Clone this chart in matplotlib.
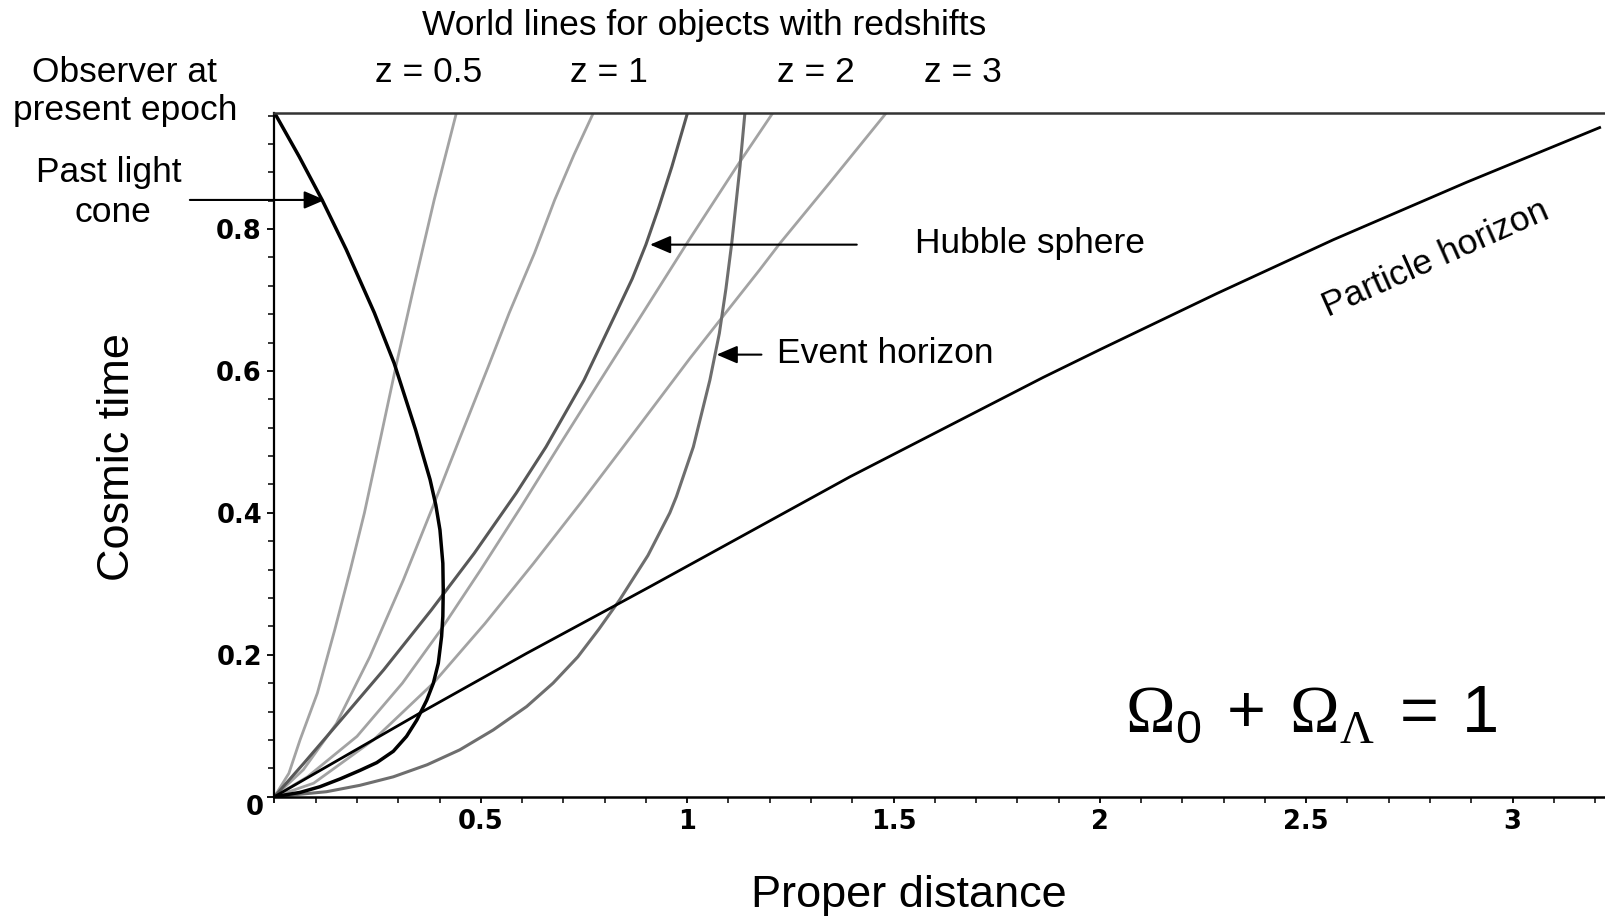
import matplotlib
matplotlib.use('Agg')
import matplotlib.pyplot as plt

plt.rcParams['font.family'] = ['Liberation Sans', 'DejaVu Sans']
plt.rcParams['mathtext.fontset'] = 'custom'
plt.rcParams['mathtext.rm'] = 'Liberation Sans'
plt.rcParams['mathtext.sf'] = 'Liberation Serif'

# ---- curves: (proper distance, cosmic time) ----
light_cone_d = [0.0, 0.060, 0.1155, 0.174, 0.242, 0.290, 0.342, 0.361, 0.377, 0.391, 0.401,
                0.408, 0.409, 0.408, 0.405, 0.397, 0.385, 0.369, 0.345, 0.320, 0.288,
                0.248, 0.207, 0.159, 0.110, 0.062, 0.0]
light_cone_t = [0.964, 0.902, 0.841, 0.771, 0.682, 0.611, 0.517, 0.479, 0.447, 0.411, 0.376,
                0.329, 0.291, 0.254, 0.226, 0.188, 0.160, 0.136, 0.108, 0.085, 0.064,
                0.048, 0.037, 0.025, 0.014, 0.006, 0.0]

z05_d = [0.0, 0.035, 0.062, 0.104, 0.146, 0.184, 0.218, 0.257, 0.296, 0.338, 0.387, 0.441]
z05_t = [0.0, 0.033, 0.080, 0.146, 0.235, 0.320, 0.400, 0.505, 0.611, 0.719, 0.841, 0.964]

z1_d = [0.0, 0.070, 0.150, 0.231, 0.312, 0.384, 0.449, 0.518, 0.569, 0.630, 0.679, 0.726, 0.773]
z1_t = [0.0, 0.038, 0.103, 0.197, 0.305, 0.409, 0.505, 0.606, 0.682, 0.766, 0.841, 0.905, 0.964]

z2_d = [0.0, 0.080, 0.200, 0.310, 0.403, 0.500, 0.598, 0.688, 0.780, 0.893, 1.005, 1.120, 1.208]
z2_t = [0.0, 0.028, 0.085, 0.160, 0.235, 0.320, 0.409, 0.493, 0.578, 0.682, 0.785, 0.888, 0.964]

z3_d = [0.0, 0.095, 0.240, 0.385, 0.510, 0.628, 0.742, 0.845, 1.007, 1.080, 1.175, 1.225, 1.345, 1.483]
z3_t = [0.0, 0.019, 0.080, 0.160, 0.244, 0.329, 0.414, 0.493, 0.618, 0.672, 0.742, 0.780, 0.865, 0.964]

hubble_d = [0.0, 0.071, 0.161, 0.265, 0.380, 0.484, 0.586, 0.658, 0.750, 0.828, 0.867,
            0.900, 0.931, 0.963, 1.001]
hubble_t = [0.0, 0.047, 0.108, 0.179, 0.263, 0.343, 0.428, 0.493, 0.587, 0.682, 0.730,
            0.778, 0.830, 0.888, 0.964]

event_d = [0.0, 0.126, 0.207, 0.288, 0.370, 0.449, 0.530, 0.611, 0.675, 0.735, 0.786, 0.836,
           0.905, 0.958, 0.974, 1.015, 1.055, 1.078, 1.094, 1.108, 1.128, 1.140]
event_t = [0.0, 0.007, 0.016, 0.028, 0.045, 0.066, 0.094, 0.127, 0.160, 0.197, 0.236, 0.277,
           0.340, 0.400, 0.423, 0.493, 0.587, 0.653, 0.716, 0.780, 0.888, 0.964]

particle_d = [0.0, 0.353, 0.611, 0.837, 0.910, 1.176, 1.395, 1.863, 2.000, 2.283, 2.566, 2.889, 3.211]
particle_t = [0.0, 0.118, 0.202, 0.273, 0.296, 0.381, 0.451, 0.591, 0.630, 0.709, 0.785, 0.866, 0.943]

x_ticks = [0, 0.5, 1, 1.5, 2, 2.5, 3]
x_tick_labels = ['', '0.5', '1', '1.5', '2', '2.5', '3']
y_ticks = [0, 0.2, 0.4, 0.6, 0.8]
y_tick_labels = ['', '0.2', '0.4', '0.6', '0.8']
z_labels = ['z = 0.5', 'z = 1', 'z = 2', 'z = 3']
z_label_x = [0.2673, 0.3794, 0.5084, 0.6000]

light_gray = '#a3a3a3'
dark_gray = '#585858'
mid_gray = '#6e6e6e'

fig = plt.figure(figsize=(16.05, 9.19), dpi=100)
ax = fig.add_axes([0.1710, 0.1331, 0.8290, 0.7443])
ax.set_xlim(0, 3.224)
ax.set_ylim(0, 0.964)

for d, t in [(z05_d, z05_t), (z1_d, z1_t), (z2_d, z2_t), (z3_d, z3_t)]:
    ax.plot(d, t, color=light_gray, lw=2.0, solid_joinstyle='round')
ax.plot(event_d, event_t, color=mid_gray, lw=2.2, solid_joinstyle='round')
ax.plot(hubble_d, hubble_t, color=dark_gray, lw=2.2, solid_joinstyle='round')
ax.plot(particle_d, particle_t, color='black', lw=2.0, solid_joinstyle='round')
ax.plot(light_cone_d, light_cone_t, color='black', lw=2.5, solid_joinstyle='round')

# axes, ticks
ax.spines['right'].set_visible(False)
ax.spines['left'].set_linewidth(1.6)
ax.spines['bottom'].set_linewidth(1.8)
ax.spines['top'].set_linewidth(1.8)
ax.spines['top'].set_color('#333333')

tick_font = dict(family='DejaVu Sans', weight='bold', size=18.5)
ax.set_xticks(x_ticks)
ax.set_xticklabels(x_tick_labels, fontdict=tick_font)
ax.set_yticks(y_ticks)
ax.set_yticklabels(y_tick_labels, fontdict=tick_font)
ax.xaxis.set_minor_locator(matplotlib.ticker.MultipleLocator(0.1))
ax.yaxis.set_minor_locator(matplotlib.ticker.MultipleLocator(0.04))
ax.tick_params(axis='x', which='major', length=4, width=1.3, pad=5)
ax.tick_params(axis='x', which='minor', length=4, width=1.1)
ax.tick_params(axis='y', which='major', length=5, width=1.3, pad=4)
ax.tick_params(axis='y', which='minor', length=4, width=1.1)
ax.annotate('0', xy=(0, 0), xytext=(-20, -11), textcoords='offset pixels',
            ha='center', va='center', annotation_clip=False,
            fontfamily='DejaVu Sans', fontweight='bold', fontsize=18.5)

ax.set_xlabel('Proper distance', fontsize=32.5)
ax.xaxis.set_label_coords(0.477, -0.145)
ax.xaxis.label.set_va('center')
ax.set_ylabel('Cosmic time', fontsize=32.5)
ax.yaxis.set_label_coords(-0.1176, 0.4966)
ax.yaxis.label.set_va('center')

# labels above the plot
txt = dict(fontsize=25.5, color='black')
fig.text(0.4386, 1 - 35 / 919, 'World lines for objects with redshifts', ha='center', va='baseline', **txt)
for lab, xpos in zip(z_labels, z_label_x):
    fig.text(xpos, 1 - 81.7 / 919, lab, ha='center', va='baseline', **txt)
fig.text(125 / 1605, 1 - 81.7 / 919, 'Observer at', ha='center', va='baseline', **txt)
fig.text(125 / 1605, 1 - 120 / 919, 'present epoch', ha='center', va='baseline', **txt)
fig.text(108.5 / 1605, 1 - 181.7 / 919, 'Past light', ha='center', va='baseline', **txt)
fig.text(113 / 1605, 1 - 221.7 / 919, 'cone', ha='center', va='baseline', **txt)

# annotations with arrows
arrow = dict(arrowstyle='-|>,head_length=0.7,head_width=0.3', color='black', lw=1.5,
             shrinkA=0, shrinkB=0, mutation_scale=18)
ax.annotate('', xy=(0.122, 0.841), xytext=(-0.205, 0.841), arrowprops=arrow, annotation_clip=False)
ax.annotate('', xy=(0.910, 0.778), xytext=(1.411, 0.778), arrowprops=arrow)
ax.annotate('', xy=(1.0715, 0.623), xytext=(1.180, 0.623), arrowprops=arrow)

ax.text(1.552, 0.766, 'Hubble sphere', ha='left', va='baseline', **txt)
ax.text(1.217, 0.611, 'Event horizon', ha='left', va='baseline', **txt)
ax.text(2.814, 0.758, 'Particle horizon', ha='center', va='center', rotation=24,
        rotation_mode='anchor', **txt)

ax.text(2.061, 0.0916,
        r'$\mathsf{\Omega}_0\,+\,\mathsf{\Omega}_{\mathsf{\Lambda}}\,=\,1$',
        ha='left', va='baseline', fontsize=48)

fig.savefig('out.png', dpi=100, facecolor='white')
